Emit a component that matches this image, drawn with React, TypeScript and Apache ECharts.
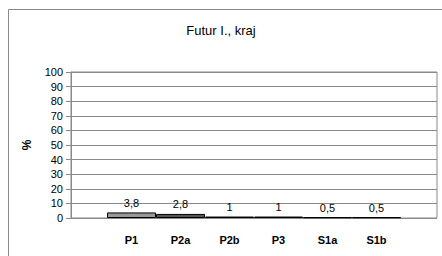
import React, { useEffect, useRef } from "react";
import * as echarts from "echarts";

const categories = ["P1", "P2a", "P2b", "P3", "S1a", "S1b"];
const values = [3.8, 2.8, 1, 1, 0.5, 0.5];
const titleText = "Futur I., kraj";
const yName = "%";

const barColors = ["#999999", "#555555", "#f4f4f4", "#dddddd", "#111111", "#111111"];
const FONT = "Liberation Sans, Arial, sans-serif";

export default function App() {
  const ref = useRef<HTMLDivElement>(null);
  useEffect(() => {
    if (!ref.current) return;
    const chart = echarts.init(ref.current, null, { renderer: "svg" });
    chart.setOption({
      animation: false,
      backgroundColor: "#ffffff",
      title: {
        text: titleText,
        left: "center",
        top: 19,
        textStyle: { fontFamily: FONT, fontSize: 13, fontWeight: "normal", color: "#000" },
      },
      graphic: [
        {
          type: "rect",
          shape: { x: 8.5, y: 9.5, width: 460, height: 300 },
          style: { fill: "none", stroke: "#8a8a8a", lineWidth: 1 },
          silent: true,
          z: -1,
        },
      ],
      grid: [
        { left: 71, top: 72, width: 366, height: 146, show: true, borderColor: "#8a8a8a", borderWidth: 1, backgroundColor: "#fff" },
        { left: 107, top: 72, width: 294, height: 146 },
      ],
      xAxis: [
        { type: "category", gridIndex: 0, data: [""], show: false },
        {
          type: "category",
          gridIndex: 1,
          data: categories,
          axisLine: { show: false },
          axisTick: { show: false },
          axisLabel: { fontFamily: FONT, fontSize: 11, fontWeight: "bold", color: "#000", margin: 16 },
        },
      ],
      yAxis: [
        {
          type: "value",
          gridIndex: 0,
          min: 0,
          max: 100,
          interval: 10,
          name: yName,
          nameLocation: "middle",
          nameRotate: 90,
          nameGap: 38,
          nameTextStyle: { fontFamily: FONT, fontSize: 12, fontWeight: "bold", color: "#000" },
          axisLine: { show: true, lineStyle: { color: "#8a8a8a" } },
          axisTick: { show: true, length: 5, lineStyle: { color: "#8a8a8a" } },
          splitLine: { show: true, lineStyle: { color: "#8a8a8a" } },
          axisLabel: { fontFamily: FONT, fontSize: 11, color: "#000", margin: 8 },
        },
        { type: "value", gridIndex: 1, min: 0, max: 100, interval: 10, show: false, splitLine: { show: false } },
      ],
      series: [
        {
          type: "bar",
          xAxisIndex: 1,
          yAxisIndex: 1,
          barCategoryGap: "0%",
          data: values.map((v, i) => ({
            value: v,
            itemStyle: { color: barColors[i], borderColor: "#000", borderWidth: 1 },
          })),
          label: {
            show: true,
            position: "top",
            distance: 4,
            fontFamily: FONT,
            fontSize: 11,
            color: "#000",
            formatter: (p: any) => String(p.value).replace(".", ","),
          },
        },
      ],
    });
    return () => chart.dispose();
  }, []);
  return <div ref={ref} style={{ width: 442, height: 256, position: "absolute", left: 0, top: 0 }} />;
}
